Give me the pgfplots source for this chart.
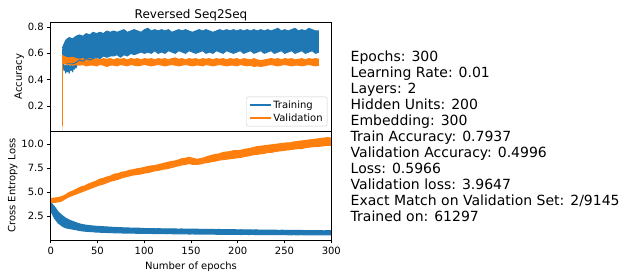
\documentclass[border=0pt]{standalone}
\usepackage{pgfplots}
\usepackage{pgfplotstable}
\pgfplotsset{compat=1.18}
\usepackage{fontspec}
\setmainfont{DejaVu Sans}
\definecolor{tblue}{HTML}{1F77B4}
\definecolor{torange}{HTML}{FF7F0E}

% training accuracy band: epoch, upper, lower
\pgfplotstableread[row sep=\\]{
x hi lo\\
0 0.64 0.52\\ 4 0.70 0.52\\ 8 0.72 0.52\\ 12 0.71 0.52\\ 16 0.73 0.53\\
20 0.74 0.55\\ 24 0.73 0.54\\ 28 0.75 0.56\\ 32 0.74 0.55\\ 36 0.76 0.56\\
40 0.75 0.57\\ 44 0.76 0.56\\ 48 0.75 0.58\\ 52 0.77 0.57\\ 56 0.76 0.58\\
60 0.77 0.58\\ 64 0.76 0.59\\ 68 0.77 0.57\\ 72 0.78 0.59\\ 76 0.76 0.58\\
80 0.77 0.60\\ 84 0.78 0.59\\ 88 0.77 0.60\\ 92 0.76 0.61\\ 96 0.78 0.60\\
100 0.79 0.61\\ 104 0.77 0.60\\ 108 0.78 0.62\\ 112 0.77 0.60\\ 116 0.78 0.61\\
120 0.77 0.60\\ 124 0.78 0.62\\ 128 0.76 0.61\\ 132 0.77 0.60\\ 136 0.78 0.62\\
140 0.77 0.61\\ 144 0.78 0.60\\ 148 0.77 0.62\\ 152 0.76 0.61\\ 156 0.77 0.60\\
160 0.78 0.61\\ 164 0.77 0.62\\ 168 0.78 0.60\\ 172 0.77 0.61\\ 176 0.76 0.60\\
180 0.77 0.62\\ 184 0.78 0.61\\ 188 0.77 0.60\\ 192 0.78 0.62\\ 196 0.77 0.61\\
200 0.78 0.60\\ 204 0.77 0.61\\ 208 0.78 0.62\\ 212 0.77 0.60\\ 216 0.78 0.61\\
220 0.77 0.62\\ 224 0.78 0.60\\ 228 0.77 0.61\\ 232 0.78 0.62\\ 236 0.77 0.60\\
240 0.78 0.61\\ 244 0.77 0.62\\ 248 0.78 0.60\\ 252 0.79 0.61\\ 256 0.77 0.62\\
260 0.78 0.60\\ 264 0.77 0.61\\ 268 0.78 0.62\\ 272 0.79 0.60\\ 276 0.77 0.61\\
280 0.78 0.62\\ 284 0.77 0.60\\ 288 0.79 0.61\\ 292 0.78 0.62\\ 296 0.77 0.60\\
300 0.77 0.61\\
}\trainacc

% early dips of the training accuracy below the validation band
\pgfplotstableread[row sep=\\]{
x y\\
1 0.52\\ 2 0.47\\ 3 0.51\\ 4 0.45\\ 5 0.51\\ 6 0.46\\ 7 0.51\\ 8 0.45\\
9 0.51\\ 10 0.47\\ 11 0.51\\ 12 0.46\\ 13 0.51\\ 14 0.48\\ 15 0.51\\ 16 0.49\\ 17 0.51\\
}\traindips

% validation accuracy band
\pgfplotstableread[row sep=\\]{
x hi lo\\
0 0.585 0.53\\ 4 0.57 0.52\\ 8 0.565 0.515\\ 12 0.57 0.51\\ 16 0.56 0.515\\
20 0.555 0.51\\ 24 0.56 0.515\\ 28 0.55 0.505\\ 32 0.56 0.51\\ 36 0.555 0.51\\
40 0.56 0.505\\ 44 0.55 0.515\\ 48 0.56 0.51\\ 52 0.555 0.50\\ 56 0.56 0.51\\
60 0.55 0.51\\ 64 0.56 0.505\\ 68 0.555 0.515\\ 72 0.56 0.51\\ 76 0.55 0.505\\
80 0.56 0.515\\ 84 0.555 0.51\\ 88 0.56 0.505\\ 92 0.55 0.51\\ 96 0.56 0.515\\
100 0.555 0.51\\ 104 0.56 0.505\\ 108 0.55 0.51\\ 112 0.56 0.515\\ 116 0.555 0.51\\
120 0.56 0.505\\ 124 0.55 0.51\\ 128 0.56 0.515\\ 132 0.565 0.51\\ 136 0.555 0.505\\
140 0.56 0.51\\ 144 0.55 0.515\\ 148 0.56 0.51\\ 152 0.555 0.505\\ 156 0.56 0.51\\
160 0.55 0.51\\ 164 0.56 0.505\\ 168 0.555 0.515\\ 172 0.56 0.51\\ 176 0.55 0.505\\
180 0.56 0.51\\ 184 0.555 0.515\\ 188 0.56 0.51\\ 192 0.55 0.505\\ 196 0.56 0.51\\
200 0.555 0.51\\ 204 0.56 0.505\\ 208 0.55 0.515\\ 212 0.56 0.51\\ 216 0.555 0.505\\
220 0.55 0.51\\ 224 0.56 0.50\\ 228 0.55 0.505\\ 232 0.545 0.50\\ 236 0.55 0.505\\
240 0.555 0.51\\ 244 0.56 0.515\\ 248 0.555 0.51\\ 252 0.56 0.505\\ 256 0.55 0.51\\
260 0.56 0.515\\ 264 0.555 0.51\\ 268 0.56 0.505\\ 272 0.55 0.51\\ 276 0.555 0.51\\
280 0.56 0.505\\ 284 0.55 0.51\\ 288 0.56 0.515\\ 292 0.555 0.51\\ 296 0.56 0.505\\
300 0.555 0.51\\
}\valacc

% training loss band
\pgfplotstableread[row sep=\\]{
x hi lo\\
0 3.95 3.1\\ 4 3.5 2.3\\ 8 2.95 1.8\\ 12 2.6 1.5\\ 16 2.3 1.3\\
20 2.1 1.22\\ 24 1.95 1.15\\ 28 1.8 1.08\\ 32 1.68 1.0\\ 36 1.6 0.95\\
40 1.55 0.92\\ 44 1.5 0.9\\ 48 1.47 0.86\\ 52 1.44 0.84\\ 56 1.42 0.83\\
60 1.39 0.81\\ 64 1.37 0.8\\ 68 1.34 0.78\\ 72 1.33 0.77\\ 76 1.31 0.76\\
80 1.29 0.75\\ 84 1.28 0.75\\ 88 1.26 0.74\\ 92 1.27 0.73\\ 96 1.25 0.73\\
100 1.23 0.72\\ 104 1.21 0.71\\ 108 1.22 0.71\\ 112 1.2 0.70\\ 116 1.21 0.69\\
120 1.19 0.70\\ 124 1.2 0.68\\ 128 1.18 0.69\\ 132 1.19 0.67\\ 136 1.17 0.68\\
140 1.18 0.66\\ 144 1.16 0.67\\ 148 1.17 0.65\\ 152 1.15 0.66\\ 156 1.16 0.64\\
160 1.14 0.65\\ 164 1.15 0.64\\ 168 1.13 0.63\\ 172 1.14 0.64\\ 176 1.12 0.63\\
180 1.13 0.62\\ 184 1.11 0.63\\ 188 1.12 0.62\\ 192 1.10 0.61\\ 196 1.11 0.62\\
200 1.09 0.61\\ 204 1.10 0.60\\ 208 1.08 0.61\\ 212 1.09 0.60\\ 216 1.07 0.61\\
220 1.08 0.59\\ 224 1.06 0.60\\ 228 1.07 0.59\\ 232 1.05 0.60\\ 236 1.06 0.58\\
240 1.05 0.59\\ 244 1.04 0.58\\ 248 1.05 0.59\\ 252 1.03 0.58\\ 256 1.04 0.57\\
260 1.03 0.58\\ 264 1.02 0.57\\ 268 1.03 0.58\\ 272 1.01 0.57\\ 276 1.02 0.56\\
280 1.01 0.57\\ 284 1.0 0.56\\ 288 1.01 0.57\\ 292 0.99 0.56\\ 296 1.0 0.57\\
300 1.01 0.56\\
}\trainloss

% validation loss band
\pgfplotstableread[row sep=\\]{
x hi lo\\
0 4.35 3.95\\ 4 4.4 3.95\\ 8 4.45 4.0\\ 12 4.55 4.1\\ 16 4.75 4.35\\
20 5.0 4.55\\ 24 5.15 4.7\\ 28 5.35 4.85\\ 32 5.55 5.0\\ 36 5.65 5.15\\
40 5.85 5.3\\ 44 6.0 5.45\\ 48 6.15 5.6\\ 52 6.35 5.75\\ 56 6.45 5.85\\
60 6.6 6.0\\ 64 6.7 6.15\\ 68 6.9 6.25\\ 72 6.95 6.35\\ 76 7.1 6.5\\
80 7.15 6.6\\ 84 7.3 6.7\\ 88 7.35 6.8\\ 92 7.45 6.85\\ 96 7.5 6.9\\
100 7.6 7.0\\ 104 7.7 7.05\\ 108 7.75 7.15\\ 112 7.8 7.25\\ 116 7.9 7.3\\
120 8.0 7.4\\ 124 8.1 7.45\\ 128 8.2 7.55\\ 132 8.25 7.65\\ 136 8.35 7.75\\
140 8.5 7.85\\ 144 8.55 7.9\\ 148 8.65 8.0\\ 152 8.55 7.9\\ 156 8.45 7.9\\
160 8.5 7.95\\ 164 8.6 8.05\\ 168 8.75 8.1\\ 172 8.85 8.2\\ 176 8.95 8.25\\
180 9.0 8.35\\ 184 9.15 8.4\\ 188 9.2 8.45\\ 192 9.25 8.5\\ 196 9.35 8.55\\
200 9.35 8.6\\ 204 9.4 8.65\\ 208 9.5 8.75\\ 212 9.55 8.8\\ 216 9.65 8.9\\
220 9.75 8.95\\ 224 9.8 9.0\\ 228 9.85 9.05\\ 232 9.9 9.15\\ 236 9.95 9.15\\
240 10.0 9.25\\ 244 10.05 9.3\\ 248 10.1 9.35\\ 252 10.15 9.4\\ 256 10.15 9.45\\
260 10.25 9.5\\ 264 10.3 9.55\\ 268 10.35 9.55\\ 272 10.4 9.65\\ 276 10.45 9.7\\
280 10.5 9.75\\ 284 10.55 9.75\\ 288 10.6 9.8\\ 292 10.65 9.85\\ 296 10.7 9.9\\
300 10.65 9.9\\
}\valloss

\pgfplotsset{
  edge/.style={line width=1bp, line join=round},
  area/.style={draw=none, fill=#1, forget plot},
  mpl/.style={
    scale only axis,
    width=280.6bp,
    anchor=south west,
    axis on top,
    axis line style={line width=0.8bp, black},
    every tick/.style={line width=0.8bp, black},
    tick align=outside,
    major tick length=3.5bp,
    tick pos=left,
    tick label style={font=\fontsize{10bp}{12bp}\selectfont},
    label style={font=\fontsize{10bp}{12bp}\selectfont},
    ylabel shift=-3bp,
    /pgf/number format/assume math mode=true,
  }
}

\begin{document}
\begin{tikzpicture}
\path[use as bounding box] (0bp,0bp) rectangle (625bp,278bp);

\begin{axis}[mpl,
  at={(50.7bp,147bp)}, height=108.7bp,
  xmin=-13.6, xmax=314.4, ymin=0.01, ymax=0.836,
  xtick=\empty,
  ytick={0.2,0.4,0.6,0.8},
  yticklabel style={/pgf/number format/.cd, fixed, precision=1},
  ylabel={Accuracy},
  title={Reversed Seq2Seq},
  title style={font=\fontsize{12bp}{14bp}\selectfont, yshift=-8bp},
  legend style={at={(0.986,0.043)}, anchor=south east,
    font=\fontsize{10bp}{12bp}\selectfont,
    draw=black!20, rounded corners=2bp, fill=white,
    inner xsep=3bp, inner ysep=2bp, row sep=1bp,
    nodes={inner sep=1.5bp}},
  legend cell align=left,
  legend image code/.code={\draw[#1, line width=1.5bp] (0bp,0bp) -- (21bp,0bp);},
]
\addplot[area=tblue] table[x=x, y=hi] {\trainacc} \closedcycle;
\addplot[area=white] table[x=x, y=lo] {\trainacc} \closedcycle;
\addplot[area=torange] table[x=x, y=hi] {\valacc} \closedcycle;
\addplot[area=white] table[x=x, y=lo] {\valacc} \closedcycle;
\addplot[tblue, edge] table[x=x, y=hi] {\trainacc};
\addlegendentry{Training}
\addplot[torange, edge] table[x=x, y=hi] {\valacc};
\addlegendentry{Validation}
\addplot[tblue, edge, forget plot] table[x=x, y=lo] {\trainacc};
\addplot[tblue, line width=1.2bp, line join=round, forget plot] table[x=x, y=y] {\traindips};
\addplot[torange, edge, forget plot] table[x=x, y=lo] {\valacc};
\addplot[tblue, line width=1.5bp, forget plot] coordinates {(0,0.05) (0,0.63)};
\addplot[torange, line width=1.5bp, forget plot] coordinates {(0,0.045) (0,0.585)};
\end{axis}

\begin{axis}[mpl,
  at={(50.7bp,38bp)}, height=109bp,
  xmin=0, xmax=300, ymin=0.03, ymax=11.39,
  xtick={0,50,100,150,200,250,300},
  ytick={2.5,5,7.5,10},
  yticklabel style={/pgf/number format/.cd, fixed, fixed zerofill, precision=1},
  ylabel={Cross Entropy Loss},
  xlabel={Number of epochs},
]
\addplot[area=torange] table[x=x, y=hi] {\valloss} \closedcycle;
\addplot[area=white] table[x=x, y=lo] {\valloss} \closedcycle;
\addplot[area=tblue] table[x=x, y=hi] {\trainloss} \closedcycle;
\addplot[area=white] table[x=x, y=lo] {\trainloss} \closedcycle;
\addplot[tblue, edge] table[x=x, y=hi] {\trainloss};
\addplot[tblue, edge] table[x=x, y=lo] {\trainloss};
\addplot[torange, edge] table[x=x, y=hi] {\valloss};
\addplot[torange, edge] table[x=x, y=lo] {\valloss};
\addplot[tblue, line width=1.5bp] coordinates {(0,10.9) (0,3.9)};
\addplot[torange, line width=1.5bp] coordinates {(0,10.2) (0,4.3)};
\end{axis}

\node[anchor=north west, align=left, inner sep=0pt,
      font=\fontsize{14bp}{16bp}\selectfont] at (350.5bp,227.5bp) {%
Epochs: 300\\
Learning Rate: 0.01\\
Layers: 2\\
Hidden Units: 200\\
Embedding: 300\\
Train Accuracy: 0.7937\\
Validation Accuracy: 0.4996\\
Loss: 0.5966\\
Validation loss: 3.9647\\
Exact Match on Validation Set: 2/9145\\
Trained on: 61297};
\end{tikzpicture}
\end{document}
